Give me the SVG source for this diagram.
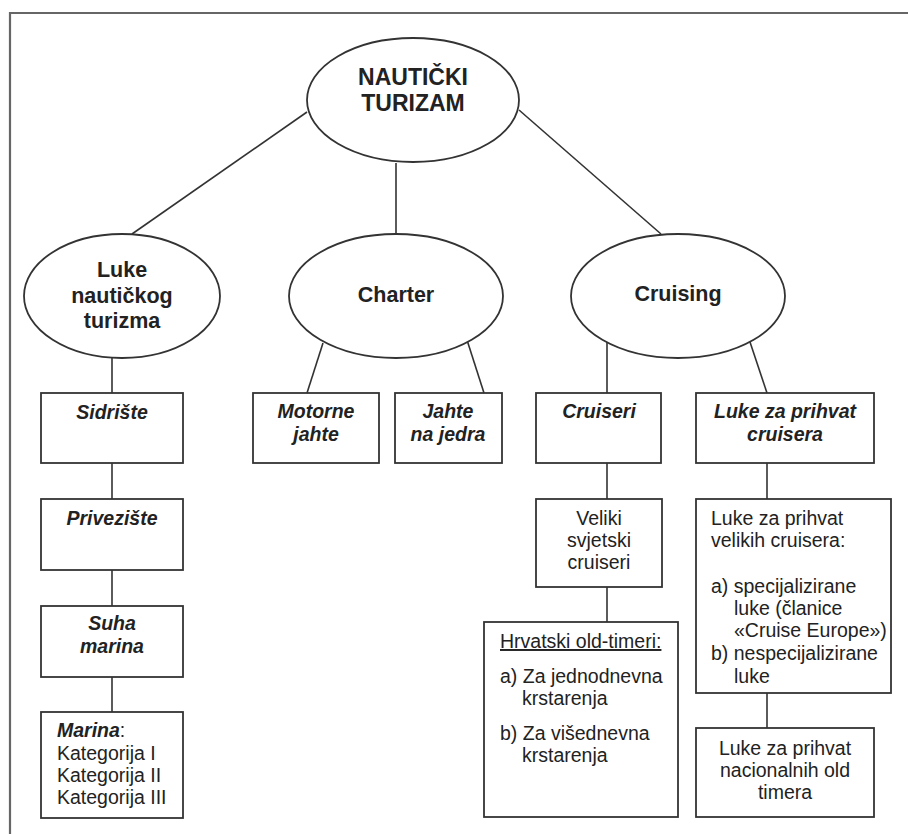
<svg xmlns="http://www.w3.org/2000/svg" width="908" height="834" viewBox="0 0 908 834">
<style>
.shape{fill:#fff;stroke:#333;stroke-width:1.8}
.conn{stroke:#333;stroke-width:1.6;fill:none}
.t{font-family:"Liberation Sans",Arial,sans-serif;fill:#222}
.root{font-size:23px;font-weight:bold;text-anchor:middle}
.el{font-size:21.5px;font-weight:bold;text-anchor:middle}
.bi{font-size:19.5px;font-weight:bold;font-style:italic;text-anchor:middle}
.n{font-size:19.5px}
.nc{font-size:19.5px;text-anchor:middle}
</style>
<rect width="908" height="834" fill="#fff"/>
<polyline points="10,834 10,13 908,13" fill="none" stroke="#666" stroke-width="2.2"/>
<g id="connectors">
<line class="conn" x1="307" y1="112" x2="132" y2="234"/>
<line class="conn" x1="396" y1="163" x2="396" y2="234"/>
<line class="conn" x1="519" y1="110" x2="661" y2="234"/>
<line class="conn" x1="112" y1="358" x2="112" y2="393"/>
<line class="conn" x1="323" y1="343" x2="307" y2="393"/>
<line class="conn" x1="467" y1="340" x2="484" y2="393"/>
<line class="conn" x1="607" y1="340" x2="607" y2="393"/>
<line class="conn" x1="750" y1="342" x2="767" y2="393"/>
<line class="conn" x1="112" y1="463" x2="112" y2="499"/>
<line class="conn" x1="112" y1="570" x2="112" y2="606"/>
<line class="conn" x1="112" y1="677" x2="112" y2="712"/>
<line class="conn" x1="607" y1="463" x2="607" y2="499"/>
<line class="conn" x1="607" y1="587" x2="607" y2="622"/>
<line class="conn" x1="767" y1="463" x2="767" y2="499"/>
<line class="conn" x1="767" y1="693" x2="767" y2="728"/>
</g>
<g id="root">
<ellipse class="shape" cx="413" cy="100" rx="106" ry="62"/>
<text class="t root" x="413" y="85">NAUTIČKI</text>
<text class="t root" x="413" y="111">TURIZAM</text>
</g>
<g id="luke">
<ellipse class="shape" cx="122" cy="296" rx="98" ry="62"/>
<text class="t el" x="122" y="277">Luke</text>
<text class="t el" x="122" y="303">nautičkog</text>
<text class="t el" x="122" y="328">turizma</text>
</g>
<g id="charter">
<ellipse class="shape" cx="396" cy="296" rx="107" ry="62"/>
<text class="t el" x="396" y="302">Charter</text>
</g>
<g id="cruising">
<ellipse class="shape" cx="678" cy="296" rx="107" ry="62"/>
<text class="t el" x="678" y="301">Cruising</text>
</g>
<g id="sidriste">
<rect class="shape" x="41" y="393" width="142" height="70"/>
<text class="t bi" x="112" y="419">Sidrište</text>
</g>
<g id="priveziste">
<rect class="shape" x="41" y="499" width="142" height="71"/>
<text class="t bi" x="112" y="525">Privezište</text>
</g>
<g id="suha">
<rect class="shape" x="41" y="606" width="142" height="71"/>
<text class="t bi" x="112" y="630">Suha</text>
<text class="t bi" x="112" y="653">marina</text>
</g>
<g id="marina">
<rect class="shape" x="41" y="712" width="142" height="106"/>
<text class="t n" x="57" y="737"><tspan font-weight="bold" font-style="italic">Marina</tspan>:</text>
<text class="t n" x="57" y="760">Kategorija I</text>
<text class="t n" x="57" y="782">Kategorija II</text>
<text class="t n" x="57" y="804">Kategorija III</text>
</g>
<g id="motorne">
<rect class="shape" x="253" y="393" width="126" height="70"/>
<text class="t bi" x="316" y="418">Motorne</text>
<text class="t bi" x="316" y="441">jahte</text>
</g>
<g id="jahte">
<rect class="shape" x="395" y="393" width="107" height="70"/>
<text class="t bi" x="448" y="418">Jahte</text>
<text class="t bi" x="448" y="441">na jedra</text>
</g>
<g id="cruiseri">
<rect class="shape" x="536" y="393" width="125" height="70"/>
<text class="t bi" x="599" y="418">Cruiseri</text>
</g>
<g id="lukeprihvat">
<rect class="shape" x="696" y="393" width="178" height="70"/>
<text class="t bi" x="785" y="418">Luke za prihvat</text>
<text class="t bi" x="785" y="441">cruisera</text>
</g>
<g id="veliki">
<rect class="shape" x="536" y="499" width="126" height="88"/>
<text class="t nc" x="599" y="525">Veliki</text>
<text class="t nc" x="599" y="547">svjetski</text>
<text class="t nc" x="599" y="569">cruiseri</text>
</g>
<g id="hrvatski">
<rect class="shape" x="484" y="622" width="194" height="195"/>
<text class="t n" x="500" y="648" text-decoration="underline">Hrvatski old-timeri:</text>
<text class="t n" x="500" y="683">a) Za jednodnevna</text>
<text class="t n" x="522" y="705">krstarenja</text>
<text class="t n" x="500" y="740">b) Za višednevna</text>
<text class="t n" x="522" y="762">krstarenja</text>
</g>
<g id="velikih">
<rect class="shape" x="696" y="499" width="195" height="194"/>
<text class="t n" x="711" y="525">Luke za prihvat</text>
<text class="t n" x="711" y="547">velikih cruisera:</text>
<text class="t n" x="711" y="593">a) specijalizirane</text>
<text class="t n" x="734" y="615">luke (članice</text>
<text class="t n" x="734" y="637">«Cruise Europe»)</text>
<text class="t n" x="711" y="660">b) nespecijalizirane</text>
<text class="t n" x="734" y="683">luke</text>
</g>
<g id="nacionalnih">
<rect class="shape" x="696" y="728" width="178" height="89"/>
<text class="t nc" x="785" y="755">Luke za prihvat</text>
<text class="t nc" x="785" y="777">nacionalnih old</text>
<text class="t nc" x="785" y="799">timera</text>
</g>
</svg>
